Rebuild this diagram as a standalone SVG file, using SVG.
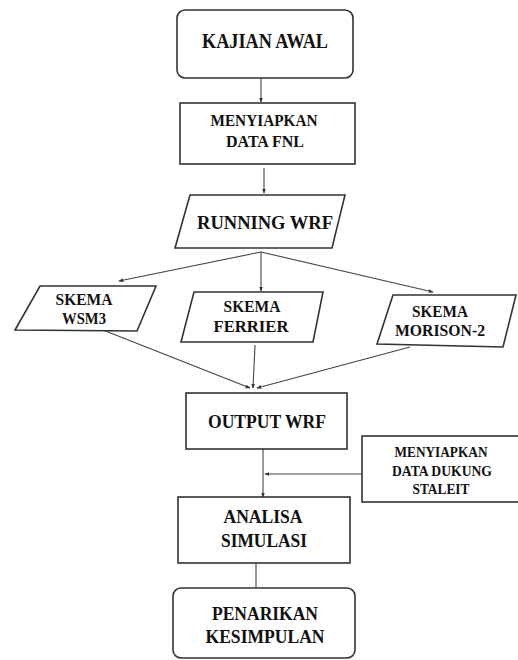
<svg xmlns="http://www.w3.org/2000/svg" width="518" height="660" viewBox="0 0 518 660">
<defs>
<style>
.box{fill:#fff;stroke:#333;stroke-width:1.6}
.t{font-family:"Liberation Serif","Times New Roman",serif;font-weight:bold;fill:#111;text-anchor:middle}
.c{fill:none;stroke:#444;stroke-width:1.1}
</style>
<marker id="ah" viewBox="0 0 8 8" refX="7" refY="4" markerWidth="5" markerHeight="5" orient="auto" markerUnits="userSpaceOnUse">
<path d="M0,1 L8,4 L0,7 Z" fill="#333"/>
</marker>
</defs>
<rect width="518" height="660" fill="#fff"/>
<g id="connectors">
<line class="c" x1="261" y1="78" x2="261" y2="102" marker-end="url(#ah)"/>
<line class="c" x1="264" y1="168" x2="264" y2="193" marker-end="url(#ah)"/>
<line class="c" x1="261" y1="252" x2="119" y2="281" marker-end="url(#ah)"/>
<line class="c" x1="261" y1="252" x2="261" y2="291" marker-end="url(#ah)"/>
<line class="c" x1="261" y1="252" x2="433" y2="292" marker-end="url(#ah)"/>
<line class="c" x1="103" y1="330" x2="250" y2="388" marker-end="url(#ah)"/>
<line class="c" x1="255" y1="345" x2="253" y2="388" marker-end="url(#ah)"/>
<line class="c" x1="410" y1="347" x2="257" y2="388" marker-end="url(#ah)"/>
<line class="c" x1="263" y1="449" x2="263" y2="497" marker-end="url(#ah)"/>
<line class="c" x1="362" y1="474" x2="265" y2="474" marker-end="url(#ah)"/>
<line class="c" x1="256" y1="563" x2="256" y2="588"/>
</g>
<g id="kajian">
<rect class="box" x="177" y="10" width="176" height="68" rx="8"/>
<text class="t" x="265" y="48" font-size="20" textLength="126" lengthAdjust="spacingAndGlyphs">KAJIAN AWAL</text>
</g>
<g id="fnl">
<rect class="box" x="180" y="103" width="175" height="61"/>
<text class="t" x="264" y="126" font-size="17" textLength="107" lengthAdjust="spacingAndGlyphs">MENYIAPKAN</text>
<text class="t" x="265" y="147" font-size="17" textLength="78" lengthAdjust="spacingAndGlyphs">DATA FNL</text>
</g>
<g id="running">
<polygon class="box" points="190,195 345,195 332,248 175,248"/>
<text class="t" x="265" y="229" font-size="19.5" textLength="136" lengthAdjust="spacingAndGlyphs">RUNNING WRF</text>
</g>
<g id="wsm3">
<polygon class="box" points="40,286 156,286 137,331 15,330"/>
<text class="t" x="84" y="305" font-size="17" textLength="57" lengthAdjust="spacingAndGlyphs">SKEMA</text>
<text class="t" x="84" y="324" font-size="17" textLength="44" lengthAdjust="spacingAndGlyphs">WSM3</text>
</g>
<g id="ferrier">
<polygon class="box" points="194,292 323,292 313,342 181,342"/>
<text class="t" x="252" y="312" font-size="17" textLength="57" lengthAdjust="spacingAndGlyphs">SKEMA</text>
<text class="t" x="251" y="332" font-size="17" textLength="75" lengthAdjust="spacingAndGlyphs">FERRIER</text>
</g>
<g id="morison">
<polygon class="box" points="393,295 516,295 503,347 377,344"/>
<text class="t" x="440" y="317" font-size="17" textLength="56" lengthAdjust="spacingAndGlyphs">SKEMA</text>
<text class="t" x="440" y="336" font-size="17" textLength="90" lengthAdjust="spacingAndGlyphs">MORISON-2</text>
</g>
<g id="output">
<rect class="box" x="186" y="393" width="161" height="56"/>
<text class="t" x="267" y="428" font-size="19.5" textLength="118" lengthAdjust="spacingAndGlyphs">OUTPUT WRF</text>
</g>
<g id="staleit">
<rect class="box" x="362" y="436" width="170" height="66"/>
<text class="t" x="441" y="457" font-size="15" textLength="93" lengthAdjust="spacingAndGlyphs">MENYIAPKAN</text>
<text class="t" x="442" y="476" font-size="15" textLength="100" lengthAdjust="spacingAndGlyphs">DATA DUKUNG</text>
<text class="t" x="441" y="494" font-size="15" textLength="57" lengthAdjust="spacingAndGlyphs">STALEIT</text>
</g>
<g id="analisa">
<rect class="box" x="178" y="497" width="172" height="66"/>
<text class="t" x="263" y="523" font-size="19" textLength="79" lengthAdjust="spacingAndGlyphs">ANALISA</text>
<text class="t" x="264" y="547" font-size="19" textLength="86" lengthAdjust="spacingAndGlyphs">SIMULASI</text>
</g>
<g id="penarikan">
<rect class="box" x="173" y="588" width="182" height="70" rx="8"/>
<text class="t" x="265" y="620" font-size="19.5" textLength="106" lengthAdjust="spacingAndGlyphs">PENARIKAN</text>
<text class="t" x="265" y="643" font-size="19.5" textLength="119" lengthAdjust="spacingAndGlyphs">KESIMPULAN</text>
</g>
</svg>
